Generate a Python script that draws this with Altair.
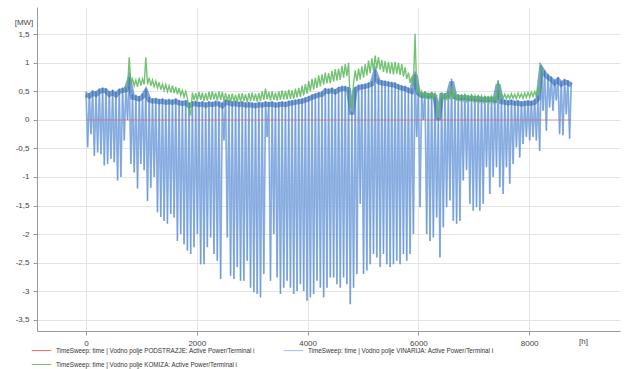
import altair as alt
import pandas as pd

STEP = 60  # hours between daily-peak samples

blue_hi = [0.5, 0.47, 0.52, 0.5, 0.55, 0.57, 0.56, 0.5, 0.53, 0.49, 0.55, 0.57, 0.58, 0.75, 0.45, 0.44, 0.42, 0.46, 0.55, 0.4,
           0.38, 0.39, 0.37, 0.38, 0.36, 0.37, 0.36, 0.38, 0.35, 0.34, 0.35, 0.3, 0.33, 0.34, 0.32, 0.33, 0.31, 0.33, 0.32, 0.34,
           0.33, 0.3, 0.36, 0.35, 0.33, 0.34, 0.32, 0.33, 0.31, 0.32, 0.31, 0.3, 0.32, 0.31, 0.33, 0.32, 0.33, 0.31, 0.32, 0.33,
           0.32, 0.34, 0.35, 0.36, 0.37, 0.38, 0.4, 0.42, 0.45, 0.47, 0.49, 0.5, 0.56, 0.55, 0.57, 0.54, 0.58, 0.6, 0.6, 0.58,
           0.15, 0.58, 0.62, 0.63, 0.64, 0.66, 0.68, 0.88, 0.72, 0.7, 0.69, 0.68, 0.67, 0.66, 0.63, 0.61, 0.6, 0.57, 0.55, 0.85,
           0.52, 0.48, 0.5, 0.47, 0.49, 0.46, 0.05, 0.48, 0.47, 0.49, 0.72, 0.46, 0.45, 0.44, 0.45, 0.43, 0.44, 0.42, 0.43, 0.41,
           0.42, 0.41, 0.42, 0.4, 0.68, 0.37, 0.36, 0.35, 0.36, 0.34, 0.35, 0.33, 0.34, 0.35, 0.34, 0.36, 0.43, 0.95, 0.86, 0.8,
           0.76, 0.7, 0.75, 0.68, 0.72, 0.7, 0.66]

blue_lo = [-0.48, -0.25, -0.63, -0.57, -0.6, -0.8, -0.77, -0.68, -0.74, -1.06, -1.0, -0.36, 0.0, -0.77, -0.92, -1.2, -0.77, -0.88, -1.42, -1.19,
           -1.0, -1.62, -1.7, -1.77, -1.82, -1.65, -1.71, -2.12, -2.0, -2.18, -2.29, -2.35, -2.23, -2.0, -2.53, -2.53, -2.23, -2.06, -2.35, -2.47,
           -2.79, -0.36, -2.06, -2.73, -2.79, -2.58, -2.82, -2.82, -2.47, -2.94, -3.02, -3.05, -3.11, -2.7, -0.3, -2.82, -2.0, -2.76, -3.05, -2.94,
           -2.82, -2.94, -3.05, -3.0, -2.88, -3.0, -3.17, -3.11, -3.05, -2.82, -2.94, -3.11, -2.94, -2.76, -2.76, -2.88, -2.94, -2.76, -2.88, -3.23,
           -2.94, -2.7, -1.47, -2.7, -2.64, -2.53, -2.35, -2.41, -2.58, -2.35, -2.53, -2.58, -2.53, -2.47, -2.53, -2.35, -2.47, -2.35, -2.0, -0.3,
           -1.53, 0.0, -2.0, -2.12, -2.06, -1.71, -2.41, -1.88, -1.53, -1.41, -1.77, -1.82, -1.77, -1.06, -0.88, -1.47, -1.59, -1.53, -1.59, -1.47,
           -0.83, -1.3, -1.0, -0.83, -1.18, -1.3, -0.83, -1.12, -0.77, -0.48, -0.66, -0.42, -0.3, -0.36, -0.3, -0.36, -0.54, 0.16, -0.19, 0.22,
           0.16, 0.34, -0.25, -0.27, 0.1, -0.33]

GREEN_START = 12  # first sample index of the KOMIZA trace
green_hi = [0.55, 1.1, 0.72, 0.7, 0.74, 0.72, 1.1, 0.74, 0.7, 0.68, 0.66, 0.63, 0.62, 0.6, 0.6, 0.58, 0.56, 0.52, 0.5, 0.15,
            0.48, 0.47, 0.49, 0.48, 0.47, 0.49, 0.5, 0.48, 0.5, 0.49, 0.47, 0.45, 0.46, 0.44, 0.46, 0.47, 0.45, 0.47, 0.48, 0.46,
            0.47, 0.5, 0.55, 0.49, 0.5, 0.48, 0.5, 0.52, 0.51, 0.53, 0.52, 0.55, 0.56, 0.6, 0.63, 0.68, 0.72, 0.74, 0.78, 0.8,
            0.83, 0.82, 0.86, 0.89, 0.9, 0.95, 0.98, 1.0, 0.2, 0.87, 0.9, 0.94, 0.98, 1.04, 1.08, 1.13, 1.1, 1.05, 1.03, 1.02,
            1.01, 1.02, 1.0, 0.98, 0.92, 0.83, 0.76, 1.51, 0.55, 0.5, 0.5, 0.48, 0.49, 0.47, 0.03, 0.48, 0.47, 0.48, 0.6, 0.46,
            0.45, 0.45, 0.44, 0.44, 0.43, 0.43, 0.42, 0.42, 0.41, 0.42, 0.41, 0.41, 0.7, 0.46, 0.45, 0.44, 0.46, 0.45, 0.47, 0.46,
            0.47, 0.48, 0.49, 0.5, 0.55, 0.95]

green_lo = [0.58, 0.62, 0.6, 0.58, 0.6, 0.62, 0.62, 0.6, 0.58, 0.56, 0.53, 0.52, 0.5, 0.48, 0.47, 0.45, 0.43, 0.4, 0.38, 0.1,
            0.35, 0.34, 0.35, 0.33, 0.34, 0.35, 0.36, 0.34, 0.35, 0.34, 0.32, 0.31, 0.33, 0.31, 0.32, 0.33, 0.31, 0.33, 0.34, 0.32,
            0.33, 0.35, 0.36, 0.34, 0.35, 0.34, 0.35, 0.36, 0.36, 0.37, 0.37, 0.39, 0.4, 0.43, 0.46, 0.5, 0.53, 0.56, 0.59, 0.62,
            0.64, 0.64, 0.67, 0.69, 0.7, 0.74, 0.77, 0.3, 0.65, 0.68, 0.71, 0.74, 0.78, 0.82, 0.86, 0.9, 0.88, 0.84, 0.82, 0.81,
            0.8, 0.81, 0.79, 0.76, 0.72, 0.65, 0.6, 0.5, 0.4, 0.38, 0.37, 0.36, 0.37, 0.35, 0.3, 0.36, 0.35, 0.36, 0.37, 0.34,
            0.33, 0.34, 0.33, 0.32, 0.33, 0.31, 0.32, 0.31, 0.3, 0.31, 0.3, 0.3, 0.38, 0.38, 0.37, 0.37, 0.38, 0.37, 0.39, 0.38,
            0.39, 0.4, 0.41, 0.42, 0.46]

red_t = [0, 8760]
red_v = [0.0, 0.0]

y_ticks = [-3.5, -3.0, -2.5, -2.0, -1.5, -1.0, -0.5, 0.0, 0.5, 1.0, 1.5]
x_ticks = [0, 2000, 4000, 6000, 8000]

S_RED = "TimeSweep: time | Vodno polje PODSTRAZJE: Active Power/Terminal i"
S_BLUE = "TimeSweep: time | Vodno polje VINARIJA: Active Power/Terminal i"
S_GREEN = "TimeSweep: time | Vodno polje KOMIZA: Active Power/Terminal i"

rows = []
for i, v in enumerate(blue_hi):
    rows.append({"t": i * STEP, "v": v, "s": S_BLUE})
    if i < len(blue_lo):
        rows.append({"t": i * STEP + STEP // 2, "v": blue_lo[i], "s": S_BLUE})
blue_df = pd.DataFrame(rows)
blue_top = pd.DataFrame({"t": [i * STEP for i in range(len(blue_hi))], "v": blue_hi})

rows = []
for k, v in enumerate(green_hi):
    i = GREEN_START + k
    rows.append({"t": i * STEP, "v": v, "s": S_GREEN})
    if k < len(green_lo):
        rows.append({"t": i * STEP + STEP // 2, "v": green_lo[k], "s": S_GREEN})
green_df = pd.DataFrame(rows)

red_df = pd.DataFrame({"t": red_t, "v": red_v, "s": [S_RED] * len(red_t)})

order = [S_RED, S_BLUE, S_GREEN]
legend_order = [S_RED, S_GREEN, S_BLUE]  # legend grid fills column by column
color_scale = alt.Scale(domain=order, range=["#e8564e", "#8fb3e6", "#5cb85c"])

xs = alt.Scale(domain=[-885, 9640], nice=False, zero=False)
ys = alt.Scale(domain=[-3.7, 1.98], nice=False, zero=False)

x_axis = alt.Axis(values=x_ticks, format="d", title=None, grid=True, gridColor="#e4e4e4",
                  domainColor="#9a9a9a", tickColor="#9a9a9a", tickSize=4, labelFontSize=8,
                  labelColor="#444", labelFont="Liberation Sans", labelPadding=4, labelOverlap=False)
y_axis = alt.Axis(values=y_ticks, format="~g", title=None, grid=True,
                  gridColor="#e4e4e4", domainColor="#9a9a9a", tickColor="#9a9a9a", tickSize=4,
                  labelFontSize=8, labelColor="#444", labelFont="Liberation Sans",
                  labelPadding=4, labelOverlap=False, labelSeparation=0)

legend = alt.Legend(title=None, orient="none", legendX=-6, legendY=333, columns=2, symbolType="stroke",
                    symbolSize=380, symbolStrokeWidth=1, labelFontSize=6.3, labelFont="Liberation Sans",
                    labelColor="#333", labelLimit=400, columnPadding=26, rowPadding=-9, symbolOffset=0,
                    values=legend_order)

X = alt.X("t:Q", scale=xs, axis=x_axis)
Y = alt.Y("v:Q", scale=ys, axis=y_axis)
C = alt.Color("s:N", scale=color_scale, legend=legend)

blue = alt.Chart(blue_df).mark_line(strokeWidth=1.8, opacity=0.85).encode(x=X, y=Y, color=C)

blue_edge = alt.Chart(blue_df).mark_line(strokeWidth=0.6, opacity=0.6, color="#4a80c8").encode(x=X, y=Y)

band = alt.Chart(blue_top).mark_line(strokeWidth=5, yOffset=3, opacity=0.6, color="#2f67b0").encode(x=X, y=Y)

green = alt.Chart(green_df).mark_line(strokeWidth=1.4, opacity=0.85).encode(x=X, y=Y, color=C)

red = alt.Chart(red_df).mark_line(strokeWidth=1, opacity=0.55).encode(x=X, y=Y, color=C)

unit_h = alt.Chart(pd.DataFrame({"l": ["[h]"]})).mark_text(
    fontSize=8, font="Liberation Sans", color="#444", baseline="top").encode(
    x=alt.datum(8980, scale=xs), y=alt.value(331), text="l:N")
unit_mw = alt.Chart(pd.DataFrame({"l": ["[MW]"]})).mark_text(
    fontSize=8, font="Liberation Sans", color="#444", align="center").encode(
    x=alt.value(-13), y=alt.value(16), text="l:N")

chart = alt.layer(blue, blue_edge, band, green, red, unit_h, unit_mw).properties(
    width=583, height=324,
    padding={"left": 37, "top": 7, "right": 5, "bottom": 38},
    autosize=alt.AutoSizeParams(type="none"),
).configure(
    background="white",
    locale={"number": {"decimal": ",", "thousands": ".", "grouping": [3],
                       "currency": ["", ""], "minus": "-"}},
).configure_view(stroke=None)

chart.save("out.html", embed_options={"renderer": "svg", "actions": False})
